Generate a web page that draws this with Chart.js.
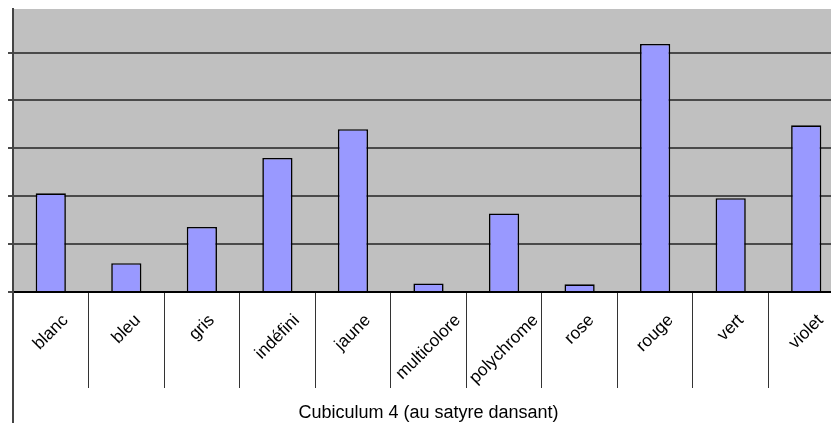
<!DOCTYPE html>
<html><head><meta charset="utf-8">
<script src="https://cdn.jsdelivr.net/npm/chart.js@4/dist/chart.umd.min.js"></script>
<style>html,body{margin:0;padding:0;overflow:hidden;background:#fff;width:831px;height:423px}canvas{display:block}</style>
</head><body>
<canvas id="c" width="844" height="423"></canvas>
<script>
const categories = ['blanc','bleu','gris','indéfini','jaune','multicolore','polychrome','rose','rouge','vert','violet'];
const values = [20.6, 6.0, 13.6, 28.0, 34.0, 1.8, 16.4, 1.6, 51.8, 19.6, 34.8];
const axisTitle = 'Cubiculum 4 (au satyre dansant)';
const yMax = 59.1;
const yStep = 10;

const FONT = '"Liberation Sans", Arial, sans-serif';

const plotBg = {
  id: 'plotBg',
  beforeDraw(chart) {
    const {ctx, chartArea: a} = chart;
    ctx.save();
    ctx.fillStyle = '#c0c0c0';
    ctx.fillRect(a.left, a.top, a.right - a.left, a.bottom - a.top);
    ctx.restore();
  }
};

const rotatedLabels = {
  id: 'rotatedLabels',
  afterDraw(chart) {
    const ctx = chart.ctx, xs = chart.scales.x, a = chart.chartArea;
    ctx.save();
    ctx.strokeStyle = '#444';
    ctx.lineWidth = 2;
    ctx.beginPath();
    ctx.moveTo(a.left, a.bottom);
    ctx.lineTo(a.left, chart.height);
    ctx.stroke();
    const fs = 17.3;
    ctx.font = fs + 'px ' + FONT;
    ctx.fillStyle = '#000';
    ctx.textAlign = 'center';
    ctx.textBaseline = 'middle';
    const r = Math.SQRT1_2;
    const topY = a.bottom + 22;
    xs.ticks.forEach((t, i) => {
      const x = xs.getPixelForTick(i);
      const txt = categories[i];
      const w = ctx.measureText(txt).width;
      const cy = topY + (w / 2 + 0.3 * fs) * r;
      ctx.save();
      ctx.translate(x, cy);
      ctx.rotate(-Math.PI / 4);
      ctx.fillText(txt, 0, 0);
      ctx.restore();
    });
    ctx.restore();
  }
};

new Chart(document.getElementById('c'), {
  type: 'bar',
  data: {
    labels: categories,
    datasets: [{
      data: values,
      backgroundColor: '#9999ff',
      borderColor: '#000',
      borderWidth: 1.6,
      barPercentage: 0.4,
      categoryPercentage: 1
    }]
  },
  options: {
    responsive: false,
    animation: false,
    devicePixelRatio: 1,
    layout: {padding: {top: 9, left: 0, right: 0, bottom: 0}},
    plugins: {legend: {display: false}, tooltip: {enabled: false}},
    scales: {
      x: {
        grid: {display: true, drawOnChartArea: false, drawTicks: true, tickLength: 96, color: '#333', lineWidth: 1, offset: true},
        border: {display: true, color: '#000', width: 2},
        ticks: {display: false},
        title: {display: true, text: axisTitle, color: '#000', font: {family: FONT, size: 18, lineHeight: 1.1}, padding: {top: 0, bottom: 0}},
        afterFit(s) { s.height = 131; }
      },
      y: {
        min: 0, max: yMax,
        ticks: {display: false, stepSize: yStep},
        grid: {
          color: (c) => (c.tick && Math.abs(c.tick.value % yStep) < 1e-6) ? '#4a4a4a' : 'rgba(0,0,0,0)',
          lineWidth: 2, tickLength: 5, drawTicks: true
        },
        border: {display: true, color: '#444', width: 2},
        afterFit(s) { s.width = 13; }
      }
    }
  },
  plugins: [plotBg, rotatedLabels]
});
</script>
</body></html>
